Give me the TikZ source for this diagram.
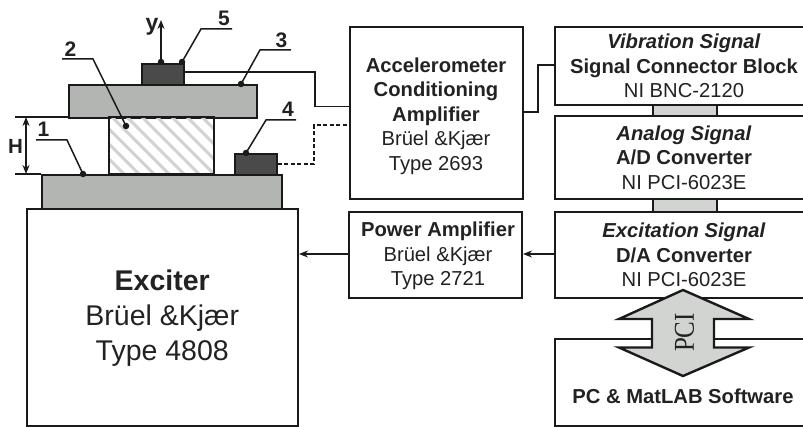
\documentclass[tikz,border=0pt]{standalone}
\usepackage{fontspec}
\usepackage{graphicx}
\setmainfont{Liberation Sans}
\newfontfamily\pciserif{Liberation Serif}
\usetikzlibrary{arrows.meta}
\definecolor{ink}{HTML}{1A1A1A}
\definecolor{txt}{HTML}{222222}
\definecolor{plate}{HTML}{B3B5B3}
\definecolor{sensor}{HTML}{4A4A4A}
\definecolor{bus}{HTML}{D2D4D2}
\definecolor{hatch}{HTML}{D2D2D2}
\newcommand{\fs}[1]{\fontsize{#1}{#1}\selectfont}
\tikzset{
  x=1pt,y=-1pt,
  blk/.style={draw=ink,line width=2pt,fill=white,inner sep=0pt,text=txt,align=center,font=\fs{20.2}},
  solidpart/.style={draw=ink,line width=1.6pt,inner sep=0pt},
  wire/.style={draw=ink,line width=1.5pt},
  dashwire/.style={draw=ink,line width=1.5pt,dash pattern=on 4pt off 2.5pt},
  lead/.style={draw=ink,line width=1.5pt},
  dotm/.style={circle,fill=ink,inner sep=0pt,minimum size=6.5pt},
  num/.style={inner sep=0pt,text=txt,font=\fs{21}\bfseries},
  arr/.style={draw=ink,line width=1.5pt,-{Stealth[length=9pt,width=7pt]}},
  dim/.style={draw=ink,line width=1.5pt,{Stealth[length=9pt,width=7pt]}-{Stealth[length=9pt,width=7pt]}},
}
\begin{document}
\begin{tikzpicture}
\clip (0,0) rectangle (803,427);
\fill[white] (0,0) rectangle (803,427);
% exciter & stack
\node[blk,minimum width=271.5pt,minimum height=216.5pt,anchor=north west,font=\fs{28.5}] (exciter) at (25.5,208.5)
  {\textbf{Exciter}\\[6.5pt]Brüel \&Kjær\\[6.5pt]Type 4808};
\node[solidpart,fill=plate,minimum width=240pt,minimum height=34pt,anchor=north west] (plateA) at (41,174) {};
\node[solidpart,fill=plate,minimum width=188pt,minimum height=33pt,anchor=north west] (plateB) at (68,84) {};
\node[draw=none,minimum width=105pt,minimum height=57pt,inner sep=0pt,outer sep=0pt,anchor=north west] (pad) at (109,117) {};
\begin{scope}
  \clip (109,117) rectangle (214,174);
  \foreach \i in {-7,...,6}
    \draw[hatch,line width=3pt] (143+15*\i-10,108) -- (143+15*\i+66,184);
\end{scope}
\draw[ink,line width=1.6pt] (pad.north west) rectangle (pad.south east);
\node[solidpart,fill=sensor,minimum width=42pt,minimum height=21pt,anchor=north west] (sensB) at (141,63) {};
\node[solidpart,fill=sensor,minimum width=42pt,minimum height=21pt,anchor=north west] (sensA) at (234,153) {};
% H
\coordinate (hT0) at (15,117); \coordinate (hB0) at (15,174);
\coordinate (hT) at (26,117); \coordinate (hB) at (26,174);
\draw[wire] (hT0) -- (plateB.west |- hT0);
\draw[wire] (hB0) -- (plateA.west |- hB0);
\draw[dim] (hT) -- (hB);
\node[num,font=\fs{20.5}\bfseries] (hlabel) at (15.5,146.5) {H};
% y
\coordinate (yBase) at (161,62); \coordinate (yTip) at (161,20);
\draw[arr] (yBase) -- (yTip);
\node[dotm] (yDot) at (yBase) {};
\node[num,font=\fs{23}\bfseries] (ylabel) at (152,27) {y};
% leaders
\node[dotm] (d5) at (182,62) {}; \coordinate (k5) at (201,29); \coordinate (e5) at (232,29);
\draw[lead] (d5.center) -- (k5) -- (e5); \node[num] (n5) at (224,18.5) {5};
\node[dotm] (d3) at (241,84) {}; \coordinate (k3) at (260,50); \coordinate (e3) at (291,50);
\draw[lead] (d3.center) -- (k3) -- (e3); \node[num] (n3) at (281.5,40) {3};
\node[dotm] (d2) at (126,126) {}; \coordinate (k2) at (93,59); \coordinate (e2) at (62,59);
\draw[lead] (d2.center) -- (k2) -- (e2); \node[num] (n2) at (70.5,49.5) {2};
\node[dotm] (d4) at (246,153) {}; \coordinate (k4) at (266,120); \coordinate (e4) at (296,120);
\draw[lead] (d4.center) -- (k4) -- (e4); \node[num] (n4) at (288,109.5) {4};
\node[dotm] (d1) at (83,174) {}; \coordinate (k1) at (67,140); \coordinate (e1) at (36,140);
\draw[lead] (d1.center) -- (k1) -- (e1); \node[num] (n1) at (43.5,129.5) {1};
% boxes
\node[blk,minimum width=173pt,minimum height=172pt,anchor=north west] (accel) at (349,26) {};
\node[inner sep=0pt,text=txt,align=center,font=\fs{20.2}] (accelT) at ([xshift=-0.5pt,yshift=-3pt]accel.center)
  {\textbf{Accelerometer}\\[4.3pt]\textbf{Conditioning}\\[4.3pt]\textbf{Amplifier}\\[4.3pt]Brüel \&Kjær\\[4.3pt]Type 2693};
\node[blk,minimum width=173pt,minimum height=86pt,anchor=north west] (power) at (348,211) {};
\node[inner sep=0pt,text=txt,align=center,font=\fs{20.2}] (powerT) at ([xshift=2.5pt,yshift=-1pt]power.center)
  {\textbf{Power Amplifier}\\[4.3pt]Brüel \&Kjær\\[4.3pt]Type 2721};
\node[blk,minimum width=258pt,minimum height=78pt,anchor=north west] (vib) at (554,26)
  {\textbf{\itshape Vibration Signal}\\[4.3pt]\textbf{Signal Connector Block}\\[4.3pt]NI BNC-2120};
\node[blk,minimum width=258pt,minimum height=83pt,anchor=north west] (ana) at (554,115)
  {\textbf{\itshape Analog Signal}\\[4.3pt]\textbf{A/D Converter}\\[4.3pt]NI PCI-6023E};
\node[blk,minimum width=258pt,minimum height=86pt,anchor=north west] (exc) at (554,211)
  {\textbf{\itshape Excitation Signal}\\[4.3pt]\textbf{D/A Converter}\\[4.3pt]NI PCI-6023E};
\node[blk,minimum width=258pt,minimum height=87pt,anchor=north west] (pc) at (554,338) {};
\node[inner sep=0pt,text=txt,font=\fs{20.2}\bfseries] (pclabel) at (683,396) {PC \& MatLAB Software};
% gray connectors
\node[solidpart,fill=bus,line width=2pt,minimum width=64pt,minimum height=11pt,anchor=north west] (busA) at (652,104) {};
\node[solidpart,fill=bus,line width=2pt,minimum width=64pt,minimum height=13pt,anchor=north west] (busB) at (652,198) {};
% PCI
\draw[draw=ink,line width=2.4pt,fill=bus,miter limit=10] (683,290) -- (749,319) -- (714,319) -- (714,347.5) -- (749,347.5) -- (683,376) -- (619,347.5) -- (652,347.5) -- (652,319) -- (619,319) -- cycle;
\node[inner sep=0pt,rotate=90,text=txt,font=\pciserif\fs{25}] (pcilabel) at (684.5,332.5) {\scalebox{1}[1.15]{PCI}};
% wires
\coordinate (wa) at (315,72); \coordinate (wb) at (315,106.5);
\draw[wire] (sensB.east |- wa) -- (wa) -- (wb) -- (accel.west |- wb);
\coordinate (da) at (314,164); \coordinate (db) at (314,125);
\draw[dashwire] (sensA.east |- da) -- (da) -- (db) -- (accel.west |- db);
\coordinate (va) at (538,112); \coordinate (vb) at (538,65);
\draw[wire] (accel.east |- va) -- (va) -- (vb) -- (vib.west |- vb);
\coordinate (ar) at (0,254);
\draw[arr] (exc.west |- ar) -- (power.east |- ar);
\draw[arr] (power.west |- ar) -- (exciter.east |- ar);
\end{tikzpicture}
\end{document}
